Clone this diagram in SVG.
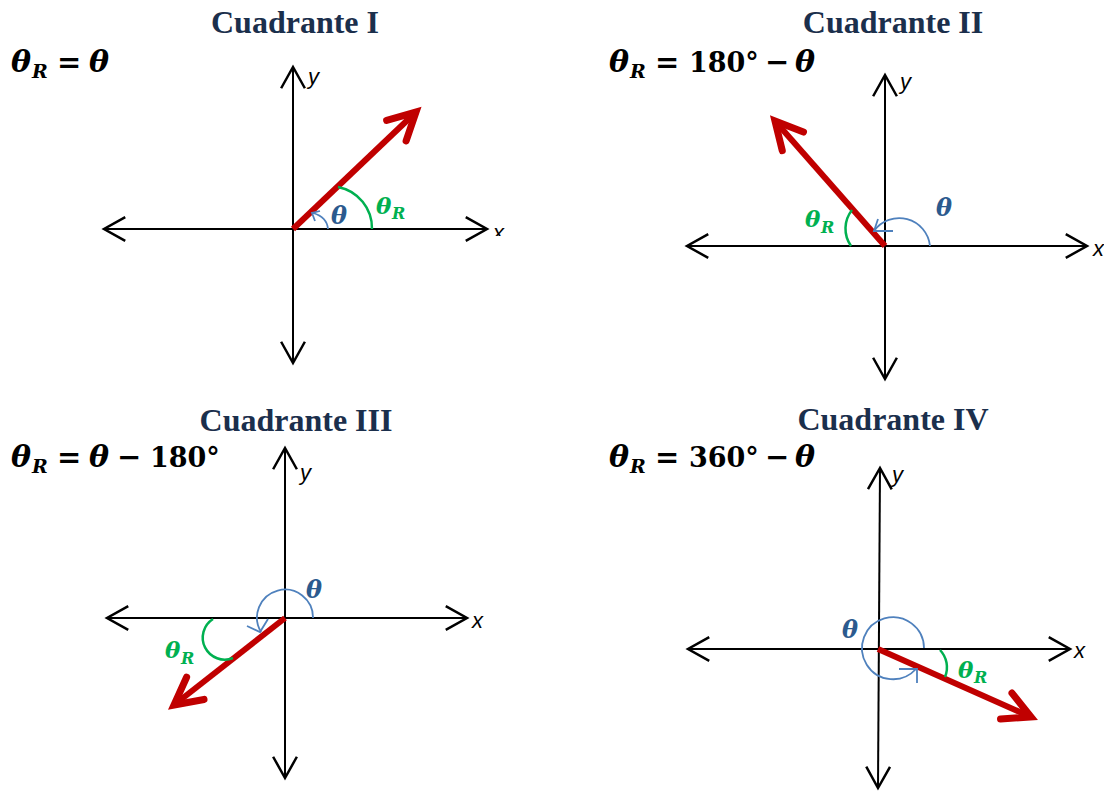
<svg xmlns="http://www.w3.org/2000/svg" width="1104" height="791" viewBox="0 0 1104 791">
<style>
.title{font-family:"Liberation Serif",serif;font-weight:bold;font-size:32px;fill:#1b2f4c;text-anchor:middle}
.f{font-family:"DejaVu Serif",serif;font-weight:bold;font-size:27px;fill:#000}
.it{font-style:italic;font-size:30px}
.sub{font-size:19px}
.op{font-size:29px}
.ax{stroke:#000;stroke-width:2;fill:none}
.lbl{font-family:"Liberation Sans",sans-serif;font-style:italic;font-size:22px;fill:#000}
.vec{stroke:#c00000;stroke-width:6;fill:none;stroke-linecap:butt}
.ga{stroke:#00b050;stroke-width:2.5;fill:none}
.ba{stroke:#4f81bd;stroke-width:1.8;fill:none}
.th{font-family:"DejaVu Serif",serif;font-weight:bold;font-style:italic;font-size:24px;fill:#2b5a8e}
.thr{font-family:"DejaVu Serif",serif;font-weight:bold;font-style:italic;font-size:23px;fill:#00b050}
.thr tspan{font-size:16px}
</style>
<defs>
<marker id="axh" markerUnits="userSpaceOnUse" markerWidth="30" markerHeight="30" viewBox="-20 -12 24 24" refX="0" refY="0" orient="auto-start-reverse" overflow="visible">
<path d="M-17,-9.5 L0,0 L-17,9.5" fill="none" stroke="#000" stroke-width="2"/>
</marker>
<marker id="vh" markerUnits="userSpaceOnUse" markerWidth="40" markerHeight="40" viewBox="-30 -16 34 32" refX="0" refY="0" orient="auto" overflow="visible">
<path d="M-23,-12 L0,0 L-23,12" fill="none" stroke="#c00000" stroke-width="6" stroke-linecap="round" stroke-linejoin="miter"/>
</marker>
<clipPath id="cx1"><rect x="480" y="200" width="40" height="36"/></clipPath>
</defs>

<g id="titles">
<text id="t1" class="title" x="295" y="33">Cuadrante I</text>
<text id="t2" class="title" x="893" y="33">Cuadrante II</text>
<text id="t3" class="title" x="296" y="431">Cuadrante III</text>
<text id="t4" class="title" x="893" y="430">Cuadrante IV</text>
</g>

<g id="formulas">
<text id="f1" class="f" y="72"><tspan class="it" x="11">θ</tspan><tspan class="it sub" x="32" y="78">R</tspan><tspan class="op" x="57" y="72">=</tspan><tspan class="it" x="89">θ</tspan></text>
<text id="f2" class="f" y="72"><tspan class="it" x="609">θ</tspan><tspan class="it sub" x="630" y="78">R</tspan><tspan class="op" x="655" y="72">=</tspan><tspan x="689">180°</tspan><tspan class="op" x="765">−</tspan><tspan class="it" x="795">θ</tspan></text>
<text id="f3" class="f" y="467"><tspan class="it" x="11">θ</tspan><tspan class="it sub" x="32" y="473">R</tspan><tspan class="op" x="57" y="467">=</tspan><tspan class="it" x="89">θ</tspan><tspan class="op" x="117">−</tspan><tspan x="150">180°</tspan></text>
<text id="f4" class="f" y="467"><tspan class="it" x="609">θ</tspan><tspan class="it sub" x="630" y="473">R</tspan><tspan class="op" x="655" y="467">=</tspan><tspan x="689">360°</tspan><tspan class="op" x="765">−</tspan><tspan class="it" x="795">θ</tspan></text>
</g>

<g id="connectors">
<line class="ax" x1="104" y1="229" x2="487" y2="229" marker-start="url(#axh)" marker-end="url(#axh)"/>
<line class="ax" x1="293" y1="363" x2="293" y2="67" marker-start="url(#axh)" marker-end="url(#axh)"/>
<line class="ax" x1="687" y1="246" x2="1087" y2="246" marker-start="url(#axh)" marker-end="url(#axh)"/>
<line class="ax" x1="885" y1="379" x2="885" y2="75" marker-start="url(#axh)" marker-end="url(#axh)"/>
<line class="ax" x1="107" y1="618" x2="467" y2="618" marker-start="url(#axh)" marker-end="url(#axh)"/>
<line class="ax" x1="285" y1="778" x2="285" y2="448" marker-start="url(#axh)" marker-end="url(#axh)"/>
<line class="ax" x1="688" y1="649" x2="1070" y2="649" marker-start="url(#axh)" marker-end="url(#axh)"/>
<line class="ax" x1="878" y1="788" x2="880" y2="468" marker-start="url(#axh)" marker-end="url(#axh)"/>
<line class="vec" x1="293" y1="229" x2="416" y2="112" marker-end="url(#vh)"/>
<line class="vec" x1="885" y1="246" x2="775" y2="121" marker-end="url(#vh)"/>
<line class="vec" x1="285" y1="618" x2="174" y2="705" marker-end="url(#vh)"/>
<line class="vec" x1="878" y1="649" x2="1031" y2="717" marker-end="url(#vh)"/>
</g>

<g id="q1">
<text class="lbl" x="308" y="84">y</text>
<text class="lbl" x="493" y="240" clip-path="url(#cx1)">x</text>
<path class="ga" d="M338,187 A42,42 0 0 1 372,229"/>
<path class="ba" d="M328,229 Q327,217 313,213"/>
<path class="ba" d="M320,211 L312,213 L315,221"/>
<text class="th" x="331" y="224">θ</text>
<text class="thr" x="376" y="214">θ<tspan x="392" y="219">R</tspan></text>
</g>

<g id="q2">
<text class="lbl" x="900" y="89">y</text>
<text class="lbl" x="1093" y="256">x</text>
<path class="ga" d="M852,210 A30,30 0 0 0 851,246"/>
<path class="ba" d="M930,246 A31,31 0 0 0 874,231"/>
<path class="ba" d="M893,231 L874,231 L878,219"/>
<text class="th" x="936" y="216">θ</text>
<text class="thr" x="805" y="227">θ<tspan x="821" y="233">R</tspan></text>
</g>

<g id="q3">
<text class="lbl" x="300" y="480">y</text>
<text class="lbl" x="472" y="628">x</text>
<path class="ga" d="M213,619 A22,22 0 0 0 233,658"/>
<path class="ba" d="M313,618 A28,28 0 1 0 261,632"/>
<path class="ba" d="M247,626 L260,632 L268,619"/>
<text class="th" x="306" y="598">θ</text>
<text class="thr" x="165" y="658">θ<tspan x="181" y="664">R</tspan></text>
</g>

<g id="q4">
<text class="lbl" x="892" y="482">y</text>
<text class="lbl" x="1074" y="658">x</text>
<path class="ga" d="M940,650 A25,25 0 0 1 945,677"/>
<path class="ba" d="M924,648 A31,31 0 1 0 916,669"/>
<path class="ba" d="M899,669 L917,669 L917,683"/>
<text class="th" x="842" y="638">θ</text>
<text class="thr" x="958" y="678">θ<tspan x="974" y="683">R</tspan></text>
</g>
</svg>
